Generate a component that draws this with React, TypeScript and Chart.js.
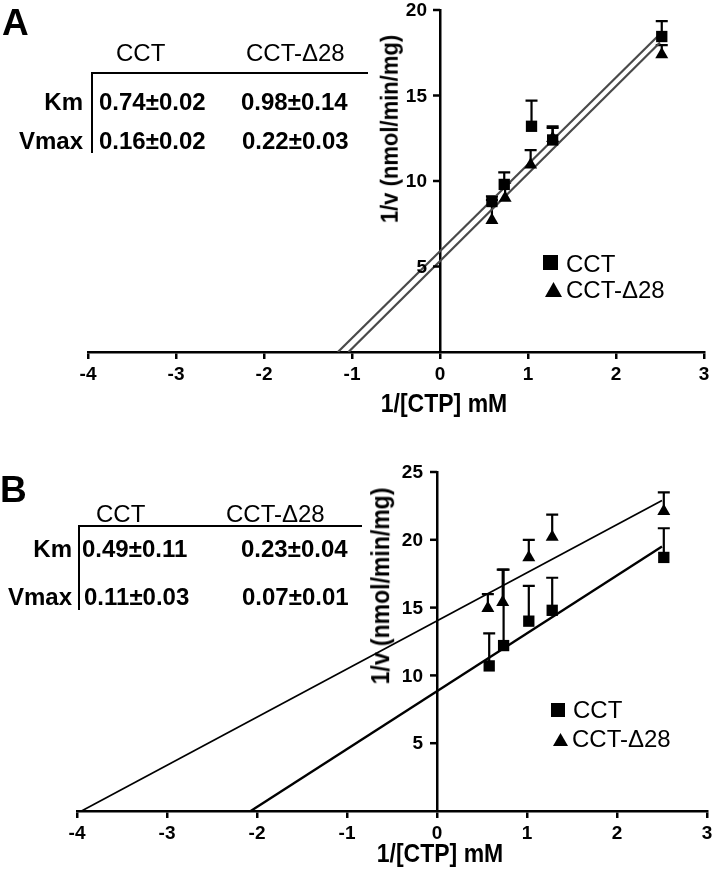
import React, { useEffect, useRef } from 'react';
import { Chart, registerables } from 'chart.js';

Chart.register(...registerables);

const FONT = "'Liberation Sans', Arial, Helvetica, sans-serif";

// ---------- shared ticks ----------
const X_TICKS = [-4, -3, -2, -1, 0, 1, 2, 3];
const A_Y_TICKS = [5, 10, 15, 20];
const B_Y_TICKS = [5, 10, 15, 20, 25];

// ---------- Panel A data ----------
const A_CCT_X = [0.59, 0.73, 1.04, 1.28, 2.52];
const A_CCT_Y = [8.8, 9.8, 13.2, 12.4, 18.45];
const A_CCT_ERR = [0.3, 0.7, 1.5, 0.8, 0.9];
const A_D28_X = [0.59, 0.74, 1.03, 1.28, 2.52];
const A_D28_Y = [7.7, 9.0, 10.95, 12.5, 17.4];
const A_D28_ERR = [1.2, 0.9, 0.85, 0.6, 0.55];
const A_FIT_CCT_X = [-1.16, 2.5];
const A_FIT_CCT_Y = [0, 18.6];
const A_FIT_D28_X = [-1.04, 2.5];
const A_FIT_D28_Y = [0, 18.1];

// ---------- Panel B data ----------
const B_CCT_X = [0.58, 0.74, 1.02, 1.28, 2.52];
const B_CCT_Y = [10.7, 12.2, 14.0, 14.8, 18.7];
const B_CCT_ERR = [2.4, 5.6, 2.6, 2.4, 2.15];
const B_D28_X = [0.565, 0.73, 1.02, 1.28, 2.52];
const B_D28_Y = [14.95, 15.4, 18.7, 20.2, 22.1];
const B_D28_ERR = [1.05, 2.4, 1.3, 1.65, 1.4];
const B_FIT_CCT_X = [-2.07, 2.5];
const B_FIT_CCT_Y = [0, 19.5];
const B_FIT_D28_X = [-3.95, 2.5];
const B_FIT_D28_Y = [0, 22.9];

const zip = (xs: number[], ys: number[]) => xs.map((x, i) => ({ x, y: ys[i] }));

const errorBarPlugin = {
  id: 'errbars',
  beforeDatasetsDraw(chart: any, _args: any, opts: any) {
    const { ctx } = chart;
    const xs = chart.scales.x;
    const ys = chart.scales.y;
    ctx.save();
    ctx.strokeStyle = '#000';
    ctx.lineWidth = 2.2;
    for (const g of opts.groups || []) {
      for (let i = 0; i < g.xs.length; i++) {
        const px = xs.getPixelForValue(g.xs[i]);
        const py = ys.getPixelForValue(g.ys[i]);
        const pt = ys.getPixelForValue(g.ys[i] + g.errs[i]);
        ctx.beginPath();
        ctx.moveTo(px, py);
        ctx.lineTo(px, pt);
        ctx.moveTo(px - 6, pt);
        ctx.lineTo(px + 6, pt);
        ctx.stroke();
      }
    }
    ctx.restore();
  },
};

// Tick labels for both axes (the y axis sits at x = 0 inside the plot)
const tickLabelPlugin = {
  id: 'ticklabels',
  afterDraw(chart: any, _args: any, opts: any) {
    const { ctx } = chart;
    const xs = chart.scales.x;
    const ys = chart.scales.y;
    const x0 = xs.getPixelForValue(0);
    const y0 = ys.getPixelForValue(0);
    ctx.save();
    ctx.strokeStyle = '#000';
    ctx.fillStyle = '#000';
    ctx.lineWidth = 2.5;
    ctx.font = `bold ${opts.size}px ${FONT}`;
    // y axis
    ctx.textAlign = 'right';
    ctx.textBaseline = 'middle';
    for (const t of ys.ticks) {
      if (t.value === 0) continue;
      const py = ys.getPixelForValue(t.value);
      ctx.beginPath();
      ctx.moveTo(x0 - 7, py);
      ctx.lineTo(x0, py);
      ctx.stroke();
      ctx.fillText(String(t.value), x0 - 7 - opts.yPad, py + 1);
    }
    // x axis
    ctx.textAlign = 'center';
    ctx.textBaseline = 'alphabetic';
    for (const t of xs.ticks) {
      const px = xs.getPixelForValue(t.value);
      ctx.fillText(String(t.value), px, y0 + opts.xBase);
    }
    ctx.restore();
  },
};

interface PanelCfg {
  cctX: number[]; cctY: number[]; cctErr: number[];
  d28X: number[]; d28Y: number[]; d28Err: number[];
  fitCctX: number[]; fitCctY: number[]; fitD28X: number[]; fitD28Y: number[];
  yTicks: number[]; yMax: number;
  fitColor: string; fitCctW: number; fitD28W: number;
  pad: { left: number; right: number; top: number; bottom: number };
  xAxisH: number; yPad: number;
}

function buildConfig(p: PanelCfg): any {
  const border = { display: true, color: '#000', width: 2.5 };
  return {
    type: 'scatter',
    data: {
      datasets: [
        { label: 'CCT', data: zip(p.cctX, p.cctY), pointStyle: 'rect', pointRadius: 8, pointHoverRadius: 8, backgroundColor: '#000', borderColor: '#000', borderWidth: 0, order: 0 },
        { label: 'CCT-Δ28', data: zip(p.d28X, p.d28Y), pointStyle: 'triangle', pointRadius: 7.5, pointHoverRadius: 7.5, backgroundColor: '#000', borderColor: '#000', borderWidth: 0, order: 0 },
        { label: 'CCT fit', data: zip(p.fitCctX, p.fitCctY), showLine: true, pointRadius: 0, borderColor: p.fitColor, borderWidth: p.fitCctW, order: 1 },
        { label: 'CCT-Δ28 fit', data: zip(p.fitD28X, p.fitD28Y), showLine: true, pointRadius: 0, borderColor: p.fitColor, borderWidth: p.fitD28W, order: 1 },
      ],
    },
    options: {
      animation: false,
      responsive: false,
      maintainAspectRatio: false,
      devicePixelRatio: 1,
      layout: { padding: p.pad },
      events: [],
      plugins: {
        legend: { display: false },
        tooltip: { enabled: false },
        errbars: {
          groups: [
            { xs: p.cctX, ys: p.cctY, errs: p.cctErr },
            { xs: p.d28X, ys: p.d28Y, errs: p.d28Err },
          ],
        },
        ticklabels: { size: 19, yPad: p.yPad, xBase: 27.5 },
      },
      scales: {
        x: {
          type: 'linear', position: 'bottom', min: -4, max: 3,
          afterBuildTicks: (axis: any) => { axis.ticks = X_TICKS.map((v) => ({ value: v })); },
          afterFit: (axis: any) => { axis.height = p.xAxisH; },
          grid: { display: true, drawOnChartArea: false, drawTicks: true, tickLength: 7, lineWidth: 2.5, tickWidth: 2.5, tickColor: '#000', color: '#000' },
          border,
          ticks: { display: false },
        },
        y: {
          type: 'linear', position: { x: 0 }, min: 0, max: p.yMax,
          afterBuildTicks: (axis: any) => { axis.ticks = p.yTicks.map((v) => ({ value: v })); },
          grid: { display: false, drawTicks: false },
          border,
          ticks: { display: false },
        },
      },
    },
    plugins: [errorBarPlugin, tickLabelPlugin],
  };
}

const PANEL_A: PanelCfg = {
  cctX: A_CCT_X, cctY: A_CCT_Y, cctErr: A_CCT_ERR,
  d28X: A_D28_X, d28Y: A_D28_Y, d28Err: A_D28_ERR,
  fitCctX: A_FIT_CCT_X, fitCctY: A_FIT_CCT_Y, fitD28X: A_FIT_D28_X, fitD28Y: A_FIT_D28_Y,
  yTicks: A_Y_TICKS, yMax: 20,
  fitColor: '#4a4a4a', fitCctW: 2.2, fitD28W: 2.2,
  pad: { left: 88, right: 12, top: 30, bottom: 0 },
  xAxisH: 48, yPad: 6,
};

const PANEL_B: PanelCfg = {
  cctX: B_CCT_X, cctY: B_CCT_Y, cctErr: B_CCT_ERR,
  d28X: B_D28_X, d28Y: B_D28_Y, d28Err: B_D28_ERR,
  fitCctX: B_FIT_CCT_X, fitCctY: B_FIT_CCT_Y, fitD28X: B_FIT_D28_X, fitD28Y: B_FIT_D28_Y,
  yTicks: B_Y_TICKS, yMax: 25,
  fitColor: '#000', fitCctW: 2.4, fitD28W: 1.7,
  pad: { left: 77, right: 9, top: 32, bottom: 0 },
  xAxisH: 61, yPad: 7,
};

// text helper: x anchor, baseline y
function T(props: { x: number; b: number; size: number; bold?: boolean; align?: 'left' | 'right' | 'center'; sy?: number; children: any }) {
  const { x, b, size, bold, align = 'left', sy = 1, children } = props;
  const tx = align === 'right' ? 'translateX(-100%)' : align === 'center' ? 'translateX(-50%)' : '';
  return (
    <div style={{ position: 'absolute', left: x, top: b - 0.8465 * size, fontSize: size, lineHeight: `${size}px`, fontWeight: bold ? 'bold' : 'normal', whiteSpace: 'nowrap', transform: `${tx} scaleY(${sy})`, transformOrigin: '50% 85%', color: '#000' }}>
      {children}
    </div>
  );
}

function VTitle(props: { cx: number; cy: number; size: number; children: any }) {
  return (
    <div style={{ position: 'absolute', left: props.cx, top: props.cy, fontSize: props.size, lineHeight: `${props.size}px`, fontWeight: 'bold', whiteSpace: 'nowrap', transform: 'translate(-50%, -50%) rotate(-90deg) scaleY(1.1)', color: '#000' }}>
      {props.children}
    </div>
  );
}

const Box = (p: { l: number; t: number; w: number; h: number; tri?: boolean }) => (
  <div style={{ position: 'absolute', left: p.l, top: p.t, width: p.w, height: p.h, background: '#000', clipPath: p.tri ? 'polygon(50% 0, 100% 100%, 0 100%)' : undefined }} />
);

export default function App() {
  const refA = useRef<HTMLCanvasElement>(null);
  const refB = useRef<HTMLCanvasElement>(null);
  useEffect(() => {
    const a = new Chart(refA.current as HTMLCanvasElement, buildConfig(PANEL_A));
    const b = new Chart(refB.current as HTMLCanvasElement, buildConfig(PANEL_B));
    return () => { a.destroy(); b.destroy(); };
  }, []);
  return (
    <div style={{ position: 'absolute', left: 0, top: 0, width: 716, height: 872, overflow: 'hidden', background: '#fff', fontFamily: FONT }}>
      <canvas ref={refA} width={716} height={420} style={{ position: 'absolute', left: 0, top: -20, width: 716, height: 420 }} />
      <canvas ref={refB} width={716} height={432} style={{ position: 'absolute', left: 0, top: 440, width: 716, height: 432 }} />

      {/* Panel A */}
      <T x={2} b={35} size={37} bold>A</T>
      <T x={116} b={61} size={24}>CCT</T>
      <T x={246} b={61} size={24}>CCT-Δ28</T>
      <Box l={91} t={72} w={277} h={2} />
      <Box l={91} t={72} w={2} h={81} />
      <T x={83} b={110} size={24} bold align="right">Km</T>
      <T x={99} b={110} size={24} bold>0.74±0.02</T>
      <T x={241} b={110} size={24} bold>0.98±0.14</T>
      <T x={83} b={149} size={24} bold align="right">Vmax</T>
      <T x={99} b={149} size={24} bold>0.16±0.02</T>
      <T x={242} b={149} size={24} bold>0.22±0.03</T>
      <VTitle cx={390} cy={129} size={22}>1/v (nmol/min/mg)</VTitle>
      <T x={444} b={412} size={23} bold align="center" sy={1.12}>1/[CTP] mM</T>
      <Box l={543} t={255} w={15} h={15} />
      <T x={566} b={272} size={24}>CCT</T>
      <Box l={545} t={282} w={17} h={15} tri />
      <T x={566} b={298} size={24}>CCT-Δ28</T>

      {/* Panel B */}
      <T x={0} b={502} size={37} bold>B</T>
      <T x={96} b={522} size={24}>CCT</T>
      <T x={226} b={522} size={24}>CCT-Δ28</T>
      <Box l={78} t={525} w={284} h={2} />
      <Box l={78} t={525} w={2} h={85} />
      <T x={72} b={557} size={24} bold align="right">Km</T>
      <T x={82} b={557} size={24} bold>0.49±0.11</T>
      <T x={241} b={557} size={24} bold>0.23±0.04</T>
      <T x={72} b={605} size={24} bold align="right">Vmax</T>
      <T x={84} b={605} size={24} bold>0.11±0.03</T>
      <T x={242} b={605} size={24} bold>0.07±0.01</T>
      <VTitle cx={381} cy={586} size={23}>1/v (nmol/min/mg)</VTitle>
      <T x={440} b={862} size={23} bold align="center" sy={1.12}>1/[CTP] mM</T>
      <Box l={551} t={703} w={14} h={14} />
      <T x={573} b={718} size={24}>CCT</T>
      <Box l={553} t={733} w={15} h={13} tri />
      <T x={572} b={747} size={24}>CCT-Δ28</T>
    </div>
  );
}
